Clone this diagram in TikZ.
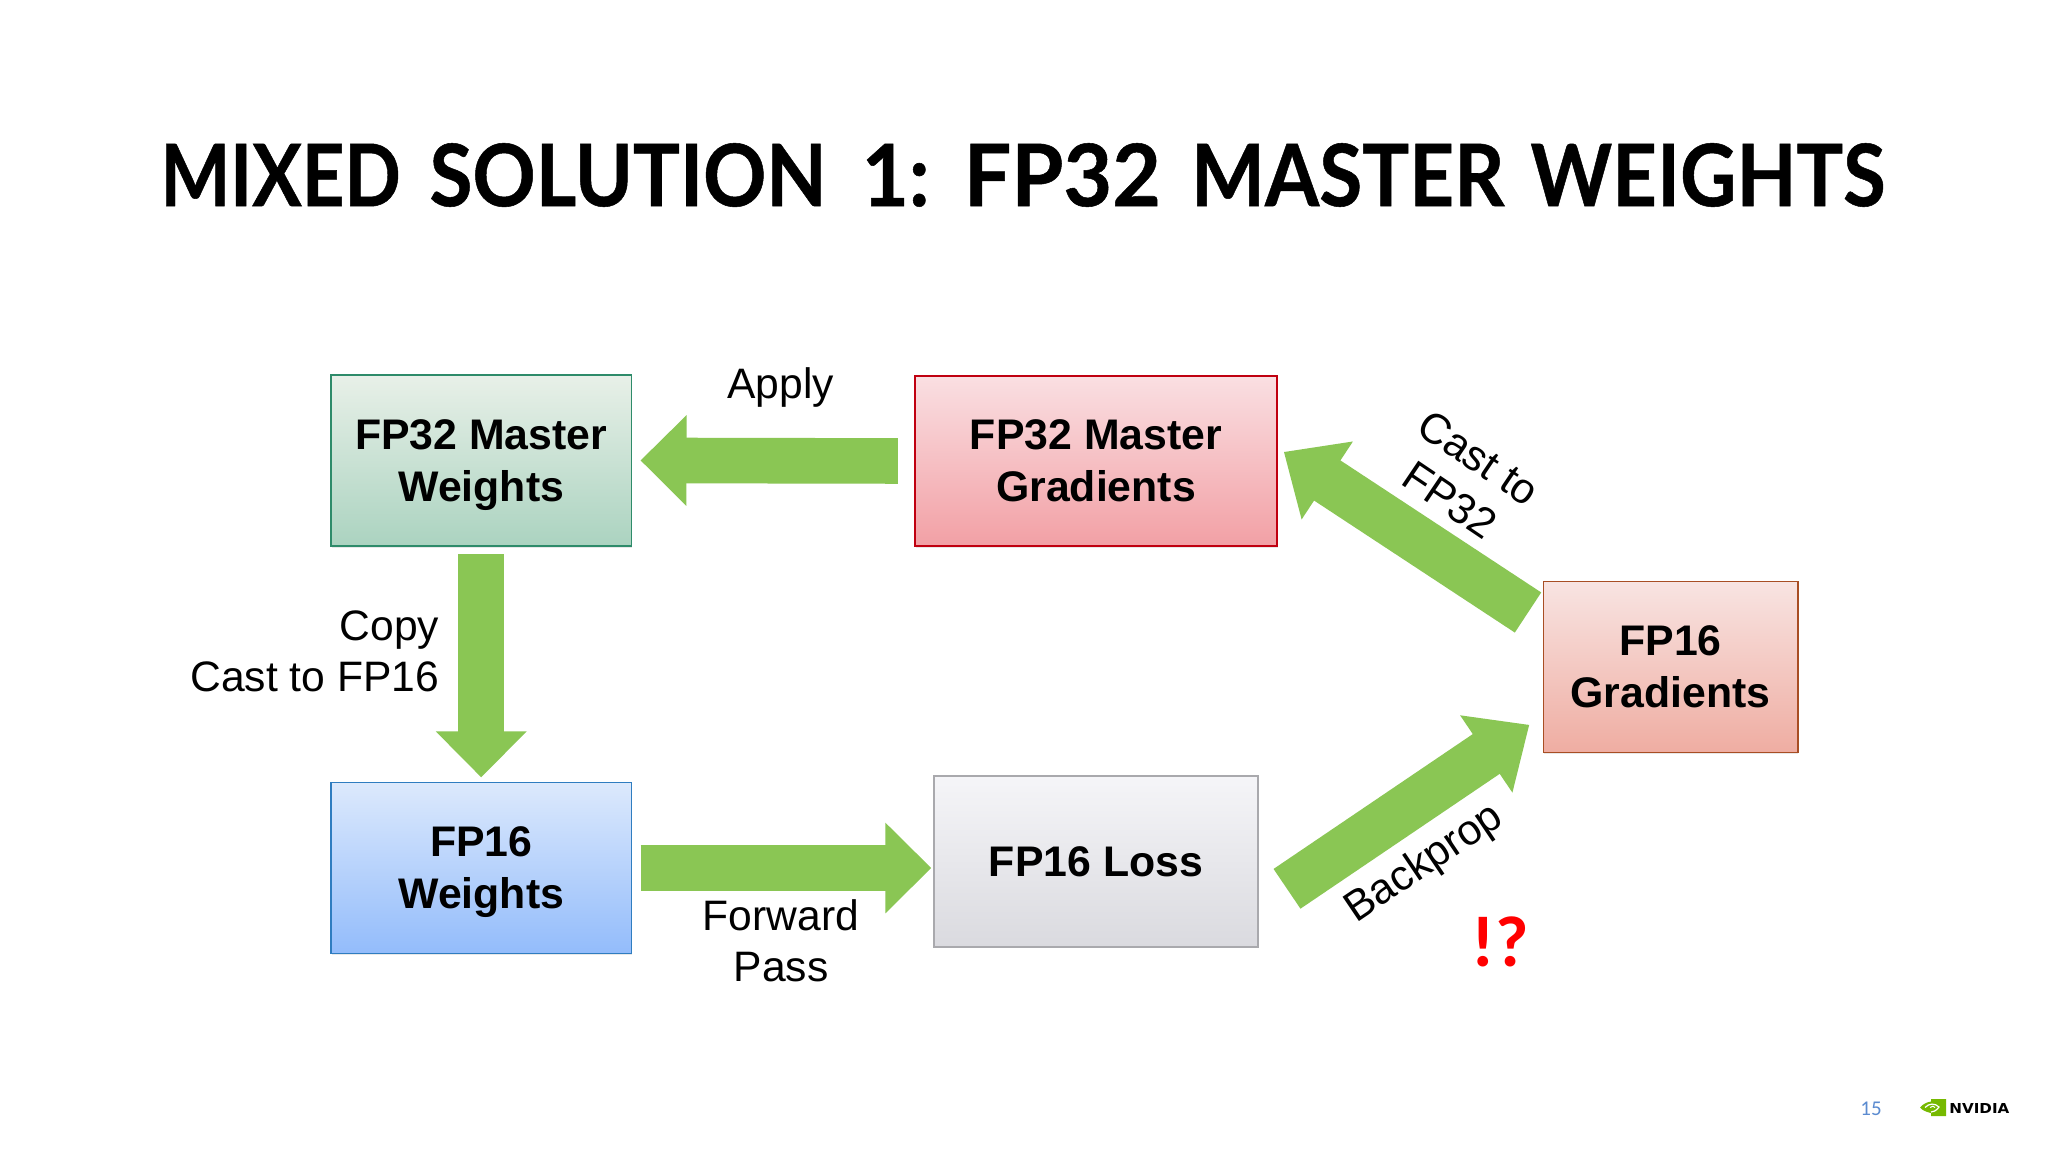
\documentclass[tikz,border=0pt]{standalone}
\usepackage{fontspec}
\usepackage{graphicx}
\setmainfont{Liberation Sans}
\newfontfamily\titlefont[BoldFeatures={FakeBold=0.6}]{Lato}
\newfontfamily\calfont{Carlito}
\newfontfamily\logofont{DejaVu Sans}
\usetikzlibrary{arrows.meta,shadows}
\definecolor{arrowgreen}{HTML}{8AC654}
\definecolor{mwtop}{HTML}{E8F0E8}\definecolor{mwbot}{HTML}{ABD3C0}\definecolor{mwline}{HTML}{2E8B6A}
\definecolor{mgtop}{HTML}{FADFE2}\definecolor{mgbot}{HTML}{F2A0A5}\definecolor{mgline}{HTML}{C00010}
\definecolor{fwtop}{HTML}{DCE9FC}\definecolor{fwbot}{HTML}{93BCFB}\definecolor{fwline}{HTML}{2F7DC0}
\definecolor{lstop}{HTML}{F5F5F8}\definecolor{lsbot}{HTML}{DADADF}\definecolor{lsline}{HTML}{A9A9AD}
\definecolor{fgtop}{HTML}{F8E4E2}\definecolor{fgbot}{HTML}{EFADA2}\definecolor{fgline}{HTML}{A84E24}
\definecolor{nvgreen}{HTML}{76B900}
\definecolor{pageblue}{HTML}{5B8BD0}
\newcommand{\titleword}[2]{\resizebox{#1}{31.5pt}{\titlefont\bfseries\vphantom{OS}#2}}
\tikzset{
  box/.style={draw,line width=0.7pt,inner sep=0pt,align=center,text depth=0pt,font=\fontsize{21.4}{26}\selectfont\bfseries,
    drop shadow={shadow xshift=0.3pt,shadow yshift=-0.8pt,opacity=0.18}},
  lbl/.style={font=\fontsize{21.3}{25.6}\selectfont,inner sep=0pt,align=center},
  blockarrow/.style={arrowgreen,line width=22.8pt,-{Triangle[length=23pt,width=44pt]}},
  diagarrow/.style={arrowgreen,line width=24pt,-{Triangle[length=26pt,width=45pt]}},
}
\begin{document}
\begin{tikzpicture}[x=0.5pt,y=-0.5pt]
\useasboundingbox (0,0) rectangle (2048,1152);
\fill[white] (0,0) rectangle (2048,1152);
\node[inner sep=0pt] (title) at (1023,175) {\titleword{120.2pt}{MIXED}\hspace{14.4pt}\titleword{198.5pt}{SOLUTION}\hspace{17.6pt}\titleword{34pt}{1:}\hspace{17pt}\titleword{98.6pt}{FP32}\hspace{15pt}\titleword{156.7pt}{MASTER}\hspace{13pt}\titleword{177.6pt}{WEIGHTS}};

\node[box,minimum width=150.2pt,minimum height=85.5pt,draw=mwline,top color=mwtop,bottom color=mwbot] (mw) at (481.2,460.4) {FP32 Master\\Weights};
\node[box,minimum width=181pt,minimum height=85pt,draw=mgline,top color=mgtop,bottom color=mgbot] (mg) at (1096,461) {FP32 Master\\Gradients};
\node[box,minimum width=150.2pt,minimum height=85.5pt,draw=fwline,top color=fwtop,bottom color=fwbot] (fw) at (481.2,868) {FP16\\Weights};
\node[box,minimum width=162pt,minimum height=85.5pt,draw=lsline,top color=lstop,bottom color=lsbot] (loss) at (1096,861.3) {FP16 Loss};
\node[box,minimum width=127.3pt,minimum height=85.5pt,draw=fgline,top color=fgtop,bottom color=fgbot] (fg) at (1670.5,666.7) {FP16\\Gradients};

\draw[blockarrow,shorten <=8.2pt,shorten >=4.2pt] (mg.west) -- (mw.east);
\draw[blockarrow,shorten <=3.9pt,shorten >=2.2pt] (mw.south) -- (fw.north);
\draw[blockarrow,shorten <=4.2pt,shorten >=1pt] (fw.east) -- (fw.east -| loss.west);

\coordinate (bpstart) at (1287,888.8);
\coordinate (bptip) at (1529.3,724.8);
\coordinate (cststart) at (1528,612.5);
\coordinate (csttip) at (1283.8,451.9);
\draw[diagarrow] (bpstart) -- (bptip);
\draw[diagarrow] (cststart) -- (csttip);

\node[lbl] (apply) at (780.5,387) {Apply};
\node[lbl,align=right,anchor=east] (copy) at (439.5,651.7) {Copy\\Cast to FP16};
\node[lbl] (forward) at (781,941) {Forward\\Pass};
\node[lbl,rotate=-34] (cast) at (1464.5,479) {Cast to\\FP32};
\node[lbl,rotate=34] (backprop) at (1424.8,864) {Backprop};
\node[inner sep=0pt,text=red,font=\fontsize{36}{36}\selectfont\calfont\bfseries] (alarm) at (1500,941.6) {!?};

\node[inner sep=0pt,text=pageblue,font=\fontsize{10.5}{10.5}\selectfont\calfont] (page) at (1871,1109) {15};
\fill[nvgreen] (1931,1099) -- (1946,1099) -- (1946,1116) -- (1931,1116) -- (1931,1113) .. controls (1926,1112) and (1922,1110) .. (1920,1107.5) .. controls (1923,1104) and (1927,1102) .. (1931,1101.5) -- cycle;
\draw[white,line width=0.6pt] (1925,1107.5) .. controls (1929,1103) and (1935,1103) .. (1939,1107) .. controls (1936,1111) and (1933,1112) .. (1931,1112);
\draw[white,line width=0.5pt] (1930,1107.5) .. controls (1932,1105.5) and (1934,1106) .. (1935,1107.5);
\node[inner sep=0pt,anchor=west] (nvidia) at (1949,1108) {\resizebox{30pt}{5pt}{\logofont\bfseries NVIDIA}};
\end{tikzpicture}
\end{document}
